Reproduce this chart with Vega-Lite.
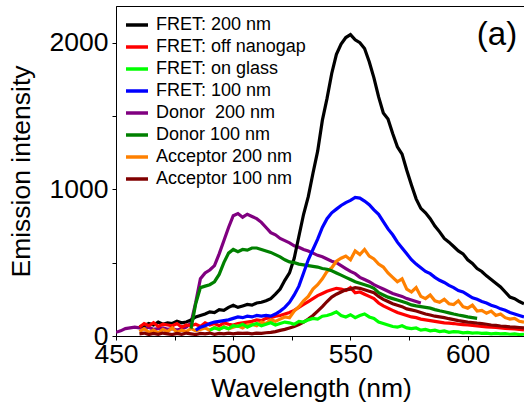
{
  "$schema": "https://vega.github.io/schema/vega-lite/v6.json",
  "autosize": "none",
  "width": 408,
  "height": 330,
  "padding": {"left": 116, "top": 6, "right": 0, "bottom": 76},
  "background": "white",
  "config": {
    "view": {"stroke": "black", "strokeWidth": 1},
    "font": "Liberation Sans",
    "axis": {"grid": false, "labelFont": "Liberation Sans", "titleFont": "Liberation Sans", "labelFontSize": 26.5, "titleFontSize": 26.5, "titleFontWeight": "normal", "labelColor": "black", "titleColor": "black", "tickColor": "black", "domainColor": "black", "tickSize": 4, "labelFlush": false, "labelOverlap": false, "labelBound": false}
  },
  "datasets": {
    "names": [
      {"key": "k", "name": "FRET: 200 nm"},
      {"key": "r", "name": "FRET: off nanogap"},
      {"key": "g", "name": "FRET: on glass"},
      {"key": "b", "name": "FRET: 100 nm"},
      {"key": "p", "name": "Donor\u00a0 200 nm"},
      {"key": "d", "name": "Donor 100 nm"},
      {"key": "o", "name": "Acceptor 200 nm"},
      {"key": "m", "name": "Acceptor 100 nm"}
    ]
  },
  "layer": [
    {
      "data": {"values": [
        {"w":450,"p":25},{"w":452,"p":35},{"w":454,"p":50},{"w":456,"p":55},{"w":458,"p":60},
        {"w":460,"k":65,"r":60,"p":55,"o":30,"m":15},
        {"w":462,"k":70,"r":85,"p":50,"o":50,"m":20},
        {"w":464,"k":85,"r":70,"p":60,"o":25,"m":10},
        {"w":466,"k":75,"r":90,"p":45,"o":40,"m":18},
        {"w":468,"k":95,"r":65,"p":50,"o":20,"m":12},
        {"w":470,"k":80,"r":80,"p":55,"o":45,"m":20},
        {"w":472,"k":90,"r":75,"p":45,"o":30,"m":15},
        {"w":474,"k":85,"r":70,"p":50,"o":55,"m":10},
        {"w":476,"k":100,"r":85,"p":40,"o":25,"m":18},
        {"w":478,"k":90,"r":60,"p":50,"o":40,"m":12},
        {"w":480,"k":95,"r":75,"p":60,"o":30,"m":20},
        {"w":482,"k":110,"r":70,"p":90,"d":50,"o":50,"m":15},
        {"w":484,"k":130,"r":80,"b":40,"p":230,"d":220,"o":35,"m":10},
        {"w":486,"k":140,"r":65,"b":60,"p":390,"d":330,"o":45,"m":18},
        {"w":488,"k":150,"r":90,"b":70,"p":430,"d":340,"o":55,"m":15},
        {"w":490,"k":165,"r":75,"g":40,"b":85,"p":450,"d":350,"o":40,"m":20},
        {"w":492,"k":160,"r":85,"g":55,"b":95,"p":480,"d":370,"o":60,"m":12},
        {"w":494,"k":180,"r":70,"g":45,"b":100,"p":560,"d":420,"o":45,"m":18},
        {"w":496,"k":175,"r":90,"g":60,"b":105,"p":650,"d":500,"o":65,"m":15},
        {"w":498,"k":195,"r":80,"g":50,"b":110,"p":740,"d":565,"o":50,"m":20},
        {"w":500,"k":210,"r":75,"g":70,"b":120,"p":820,"d":590,"o":60,"m":15},
        {"w":502,"k":195,"r":85,"g":65,"b":130,"p":835,"d":575,"o":70,"m":20},
        {"w":504,"k":205,"r":90,"g":80,"b":125,"p":810,"d":590,"o":55,"m":18},
        {"w":506,"k":215,"r":95,"g":60,"b":135,"p":830,"d":585,"o":75,"m":20},
        {"w":508,"k":210,"r":100,"g":75,"b":130,"p":815,"d":600,"o":80,"m":15},
        {"w":510,"k":225,"r":110,"g":85,"b":140,"p":800,"d":600,"o":70,"m":20},
        {"w":512,"k":230,"r":105,"g":70,"b":135,"p":775,"d":590,"o":95,"m":18},
        {"w":514,"k":240,"r":120,"g":80,"b":140,"p":740,"d":580,"o":85,"m":22},
        {"w":516,"k":255,"r":125,"g":90,"b":135,"p":705,"d":570,"o":110,"m":25},
        {"w":518,"k":285,"r":135,"g":75,"b":150,"p":690,"d":555,"o":100,"m":30},
        {"w":520,"k":320,"r":140,"g":85,"b":170,"p":665,"d":540,"o":115,"m":38},
        {"w":522,"k":380,"r":150,"g":95,"b":195,"p":650,"d":520,"o":130,"m":45},
        {"w":524,"k":430,"r":160,"g":90,"b":230,"p":635,"d":505,"o":125,"m":55},
        {"w":526,"k":530,"r":175,"g":80,"b":280,"p":615,"d":500,"o":170,"m":65},
        {"w":528,"k":680,"r":195,"g":100,"b":340,"p":605,"d":490,"o":200,"m":78},
        {"w":530,"k":830,"r":215,"g":95,"b":430,"p":590,"d":485,"o":240,"m":95},
        {"w":532,"k":950,"r":235,"g":110,"b":520,"p":580,"d":480,"o":270,"m":115},
        {"w":534,"k":1110,"r":255,"g":120,"b":590,"p":565,"d":475,"o":320,"m":140},
        {"w":536,"k":1260,"r":275,"g":115,"b":660,"p":550,"d":470,"o":350,"m":170},
        {"w":538,"k":1470,"r":290,"g":135,"b":740,"p":540,"d":460,"o":390,"m":200},
        {"w":540,"k":1620,"r":305,"g":140,"b":800,"p":525,"d":455,"o":440,"m":235},
        {"w":542,"k":1790,"r":315,"g":150,"b":840,"p":510,"d":445,"o":465,"m":265},
        {"w":544,"k":1920,"r":325,"g":165,"b":865,"p":500,"d":430,"o":510,"m":285},
        {"w":546,"k":1990,"r":320,"g":140,"b":890,"p":480,"d":415,"o":530,"m":300},
        {"w":548,"k":2035,"r":310,"g":130,"b":910,"p":460,"d":400,"o":545,"m":315},
        {"w":550,"k":2055,"r":330,"g":145,"b":925,"p":440,"d":385,"o":520,"m":320},
        {"w":552,"k":2020,"r":295,"g":125,"b":945,"p":425,"d":370,"o":580,"m":330},
        {"w":554,"k":2000,"r":300,"g":140,"b":940,"p":400,"d":360,"o":555,"m":325},
        {"w":556,"k":1960,"r":285,"g":150,"b":920,"p":385,"d":350,"o":590,"m":315},
        {"w":558,"k":1870,"r":270,"g":130,"b":895,"p":370,"d":340,"o":545,"m":305},
        {"w":560,"k":1760,"r":255,"g":120,"b":860,"p":350,"d":325,"o":525,"m":295},
        {"w":562,"k":1630,"r":225,"g":95,"b":830,"p":335,"d":295,"o":490,"m":270},
        {"w":564,"k":1520,"r":205,"g":85,"b":780,"p":320,"d":280,"o":470,"m":250},
        {"w":566,"k":1480,"r":190,"g":75,"b":730,"p":305,"d":265,"o":430,"m":235},
        {"w":568,"k":1380,"r":175,"g":65,"b":690,"p":290,"d":255,"o":400,"m":220},
        {"w":570,"k":1290,"r":160,"g":60,"b":640,"p":280,"d":245,"o":370,"m":210},
        {"w":572,"k":1240,"r":150,"g":70,"b":600,"p":270,"d":235,"o":390,"m":200},
        {"w":574,"k":1130,"r":140,"g":55,"b":560,"p":255,"d":225,"o":320,"m":185},
        {"w":576,"k":1030,"r":130,"g":50,"b":520,"p":245,"d":212,"o":300,"m":178},
        {"w":578,"k":935,"r":125,"g":55,"b":490,"p":235,"d":205,"o":330,"m":170},
        {"w":580,"k":870,"r":115,"g":40,"b":465,"p":225,"d":200,"o":270,"m":160},
        {"w":582,"k":840,"r":110,"g":45,"b":440,"d":195,"o":255,"m":150},
        {"w":584,"k":800,"r":105,"g":35,"b":425,"d":190,"o":280,"m":143},
        {"w":586,"k":750,"r":100,"g":40,"b":400,"d":180,"o":240,"m":135},
        {"w":588,"k":710,"r":95,"g":30,"b":380,"d":172,"o":230,"m":130},
        {"w":590,"k":665,"r":90,"g":35,"b":365,"d":165,"o":250,"m":125},
        {"w":592,"k":640,"r":88,"g":25,"b":345,"d":158,"o":220,"m":118},
        {"w":594,"k":610,"r":85,"g":30,"b":330,"d":150,"o":215,"m":112},
        {"w":596,"k":580,"r":80,"g":28,"b":310,"d":143,"o":240,"m":105},
        {"w":598,"k":560,"r":78,"g":22,"b":300,"d":137,"o":200,"m":100},
        {"w":600,"k":520,"r":75,"g":25,"b":280,"d":130,"o":190,"m":95},
        {"w":602,"k":495,"r":72,"g":20,"b":260,"d":125,"o":210,"m":92},
        {"w":604,"k":460,"r":68,"g":22,"b":250,"d":120,"o":170,"m":88},
        {"w":606,"k":440,"r":65,"g":18,"b":235,"o":175,"m":85},
        {"w":608,"k":410,"r":62,"g":20,"b":225,"o":155,"m":80},
        {"w":610,"k":385,"r":60,"g":15,"b":210,"o":170,"m":75},
        {"w":612,"k":360,"r":58,"g":18,"b":200,"o":140,"m":72},
        {"w":614,"k":335,"r":55,"g":14,"b":185,"o":150,"m":68},
        {"w":616,"k":300,"r":52,"g":16,"b":175,"o":125,"m":65},
        {"w":618,"k":265,"r":50,"g":12,"b":160,"o":115,"m":62},
        {"w":620,"k":255,"r":48,"g":14,"b":150,"o":120,"m":60},
        {"w":622,"k":235,"r":45,"g":10,"b":140,"o":100,"m":58},
        {"w":624,"k":220,"r":42,"g":12,"b":130,"o":95,"m":55}
      ]},
      "transform": [
        {"fold": ["k", "r", "g", "b", "p", "d", "o", "m"], "as": ["key", "y"]},
        {"filter": "isValid(datum.y)"},
        {"lookup": "key", "from": {"data": {"name": "names"}, "key": "key", "fields": ["name"]}}
      ],
      "mark": {"type": "line", "strokeWidth": 3.2, "clip": true},
      "encoding": {
        "x": {"field": "w", "type": "quantitative", "scale": {"domain": [450, 624], "nice": false, "zero": false},
          "axis": {"title": "Wavelength (nm)", "values": [450, 475, 500, 525, 550, 575, 600, 625], "format": "d", "labelExpr": "datum.value % 50 == 0 ? datum.label : ''", "labelPadding": 1, "titlePadding": 8, "titleX": 195}},
        "y": {"field": "y", "type": "quantitative", "scale": {"domain": [0, 2250], "nice": false},
          "axis": {"title": "Emission intensity", "values": [0, 500, 1000, 1500, 2000], "format": "d", "labelExpr": "datum.value % 1000 == 0 ? datum.label : ''", "labelPadding": 4, "titlePadding": 14}},
        "color": {"field": "name", "type": "nominal",
          "scale": {"domain": ["FRET: 200 nm", "FRET: off nanogap", "FRET: on glass", "FRET: 100 nm", "Donor\u00a0 200 nm", "Donor 100 nm", "Acceptor 200 nm", "Acceptor 100 nm"],
                    "range": ["#000000", "#ff0000", "#00ff00", "#0000ff", "#800080", "#008000", "#ff8000", "#800000"]},
          "legend": {"title": null, "orient": "none", "legendX": 8, "legendY": 6, "padding": 0, "symbolType": "stroke", "symbolSize": 484, "symbolStrokeWidth": 3.5, "labelFontSize": 18, "labelFont": "Liberation Sans", "labelColor": "black", "labelOffset": 6, "rowPadding": -1.5, "labelLimit": 300}}
      }
    },
    {
      "data": {"values": [{}]},
      "mark": {"type": "text", "fontSize": 33, "font": "Liberation Sans", "align": "center", "baseline": "middle", "color": "black"},
      "encoding": {
        "x": {"datum": 612.5, "type": "quantitative"},
        "y": {"datum": 2050, "type": "quantitative"},
        "text": {"value": "(a)"}
      }
    }
  ]
}
